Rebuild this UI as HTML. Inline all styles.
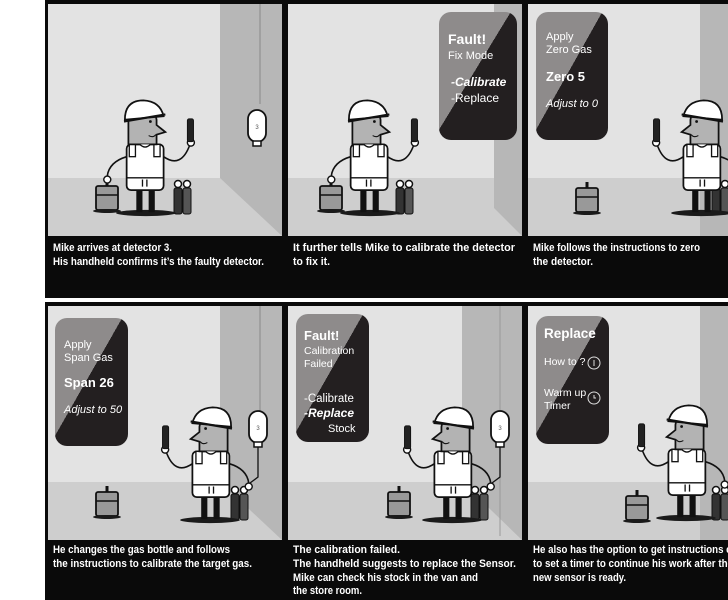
<!DOCTYPE html>
<html><head><meta charset="utf-8"><style>
html,body{margin:0;padding:0;background:#fff;width:728px;height:600px;overflow:hidden}
svg{display:block}
.cap{font-family:"Liberation Sans",sans-serif;font-weight:bold;font-size:11px;fill:#fff}
.pt{font-family:"Liberation Sans",sans-serif;fill:#fff}
</style></head><body>
<svg width="728" height="600" viewBox="0 0 728 600" xmlns="http://www.w3.org/2000/svg">
<defs>
<linearGradient id="pop" x1="0" y1="0" x2="1" y2="1">
<stop offset="0" stop-color="#8e8b8b"/><stop offset="0.46" stop-color="#8e8b8b"/><stop offset="0.46" stop-color="#231f20"/><stop offset="1" stop-color="#231f20"/>
</linearGradient>
<g id="man">
<ellipse cx="0" cy="0" rx="34" ry="3.5" fill="#1a1a1a"/>
<rect x="-11" y="-28" width="7" height="27" fill="#111"/>
<rect x="3" y="-28" width="7" height="27" fill="#111"/>
<rect x="-22" y="-78" width="42" height="52" rx="5" fill="#fff" stroke="#111" stroke-width="2"/>
<line x1="-22" y1="-40" x2="20" y2="-40" stroke="#111" stroke-width="1.5"/>
<rect x="-19" y="-78" width="7" height="14" fill="#fff" stroke="#111" stroke-width="1.5"/>
<rect x="9" y="-78" width="7" height="14" fill="#fff" stroke="#111" stroke-width="1.5"/>
<path d="M-4,-38 v8 M1,-38 v8" stroke="#111" stroke-width="1.5"/>
<path d="M-20,-78 L-20,-106 Q-20,-120 -4,-120 Q10,-120 12,-106 L12,-100 L22,-92 L12,-89 L12,-78 Z" fill="#b3b3b3" stroke="#111" stroke-width="2"/>
<path d="M-7,-78 Q-1,-72 5,-78" fill="#fff" stroke="#111" stroke-width="1.5"/>
<circle cx="5" cy="-104" r="1.6" fill="#111"/>
<path d="M3,-88 Q8,-85 11,-89" fill="none" stroke="#111" stroke-width="1.3"/>
<path d="M-24,-106 Q-24,-128 -3,-128 Q16,-127 20,-110 Z" fill="#fff" stroke="#111" stroke-width="2"/>
<path d="M-25,-104 L22,-112" stroke="#111" stroke-width="2.5"/>
<path d="M20,-64 Q40,-50 50,-78" fill="none" stroke="#111" stroke-width="1.8"/>
<circle cx="51" cy="-80" r="4" fill="#fff" stroke="#111" stroke-width="1.6"/>
<rect x="47" y="-107" width="7" height="26" rx="2" fill="#222" stroke="#111"/>
<path d="M-22,-64 Q-42,-58 -44,-42" fill="none" stroke="#111" stroke-width="1.8"/>
<circle cx="-44" cy="-38" r="4" fill="#fff" stroke="#111" stroke-width="1.6"/>
</g>
<g id="case">
<rect x="0" y="0" width="22" height="24" rx="2" fill="#999" stroke="#111" stroke-width="1.8"/>
<line x1="0" y1="9" x2="22" y2="9" stroke="#111" stroke-width="1.5"/>
<line x1="11" y1="0" x2="11" y2="-6" stroke="#111" stroke-width="3"/>
<ellipse cx="11" cy="25" rx="14" ry="2" fill="#1a1a1a"/>
</g>
<g id="bot">
<rect x="0" y="8" width="8" height="26" rx="2" fill="#333" stroke="#111"/>
<rect x="9" y="8" width="8" height="26" rx="2" fill="#555" stroke="#111"/>
<circle cx="4" cy="4" r="3.5" fill="#fff" stroke="#111" stroke-width="1.5"/>
<circle cx="13" cy="4" r="3.5" fill="#fff" stroke="#111" stroke-width="1.5"/>
</g>
<g id="det">
<rect x="-9" y="0" width="18" height="32" rx="9" fill="#fff" stroke="#111" stroke-width="1.8"/>
<rect x="-4" y="31" width="8" height="5" fill="#fff" stroke="#111" stroke-width="1.5"/>
<text x="0" y="19" font-size="6" text-anchor="middle" font-family="Liberation Sans" fill="#555">3</text>
</g>
</defs>

<rect x="45" y="0" width="683" height="298" fill="#0a0a0a"/>
<rect x="45" y="302" width="683" height="298" fill="#0a0a0a"/>

<!-- Panel 1 -->
<svg x="48" y="4" width="234" height="232">
<rect width="234" height="232" fill="#e3e3e3"/>
<rect y="174" width="234" height="58" fill="#cecece"/>
<polygon points="172,0 234,0 234,232 172,174" fill="#b7b7b7"/>
<line x1="212" y1="0" x2="212" y2="100" stroke="#888" stroke-width="1"/>
<use href="#det" x="209" y="106"/>
<use href="#case" x="48" y="182"/>
<use href="#bot" x="126" y="176"/>
<use href="#man" transform="translate(98,209) scale(0.88)"/>
</svg>
<!-- Panel 2 -->
<svg x="288" y="4" width="234" height="232">
<rect width="234" height="232" fill="#e3e3e3"/>
<rect y="174" width="234" height="58" fill="#cecece"/>
<polygon points="206,0 234,0 234,232 206,204" fill="#b7b7b7"/>
<use href="#case" x="32" y="182"/>
<use href="#bot" x="108" y="176"/>
<use href="#man" transform="translate(82,209) scale(0.88)"/>
<rect x="151" y="8" width="78" height="128" rx="12" fill="url(#pop)"/>
<text class="pt" x="160" y="40" font-size="14" font-weight="bold">Fault!</text>
<text class="pt" x="160" y="55" font-size="11" fill="#ddd">Fix Mode</text>
<text class="pt" x="163" y="82" font-size="12" font-weight="bold" font-style="italic">-Calibrate</text>
<text class="pt" x="163" y="98" font-size="12">-Replace</text>
</svg>
<!-- Panel 3 -->
<svg x="528" y="4" width="200" height="232">
<rect width="200" height="232" fill="#e3e3e3"/>
<rect y="174" width="200" height="58" fill="#cecece"/>
<rect x="172" y="0" width="28" height="232" fill="#b7b7b7"/>
<use href="#case" x="48" y="184"/>
<use href="#bot" x="184" y="176"/>
<use href="#man" transform="translate(173,209) scale(-0.88,0.88)"/>
<rect x="8" y="8" width="72" height="128" rx="12" fill="url(#pop)"/>
<text class="pt" x="18" y="36" font-size="11" fill="#ddd">Apply</text>
<text class="pt" x="18" y="49" font-size="11" fill="#ddd">Zero Gas</text>
<text class="pt" x="18" y="77" font-size="13" font-weight="bold">Zero 5</text>
<text class="pt" x="18" y="103" font-size="11" font-style="italic" fill="#ddd">Adjust to 0</text>
</svg>
<!-- Panel 4 -->
<svg x="48" y="306" width="234" height="234">
<rect width="234" height="234" fill="#e3e3e3"/>
<rect y="176" width="234" height="58" fill="#cecece"/>
<polygon points="172,0 234,0 234,234 172,176" fill="#b7b7b7"/>
<line x1="212" y1="0" x2="212" y2="110" stroke="#888"/>
<use href="#case" x="48" y="186"/>
<use href="#bot" x="183" y="180"/>
<use href="#man" transform="translate(162,214) scale(-0.88,0.88)"/>
<use href="#det" x="210" y="105"/>
<path d="M210,141 v30 l-8,6" fill="none" stroke="#111" stroke-width="1.3"/>
<rect x="7" y="12" width="73" height="128" rx="12" fill="url(#pop)"/>
<text class="pt" x="16" y="42" font-size="11" fill="#ddd">Apply</text>
<text class="pt" x="16" y="55" font-size="11" fill="#ddd">Span Gas</text>
<text class="pt" x="16" y="81" font-size="13" font-weight="bold">Span 26</text>
<text class="pt" x="16" y="107" font-size="11" font-style="italic" fill="#ddd">Adjust to 50</text>
</svg>
<!-- Panel 5 -->
<svg x="288" y="306" width="234" height="234">
<rect width="234" height="234" fill="#e3e3e3"/>
<rect y="176" width="234" height="58" fill="#cecece"/>
<polygon points="174,0 234,0 234,234 174,176" fill="#b7b7b7"/>
<line x1="212" y1="0" x2="212" y2="230" stroke="#999"/>
<use href="#case" x="100" y="186"/>
<use href="#bot" x="183" y="180"/>
<use href="#man" transform="translate(164,214) scale(-0.88,0.88)"/>
<use href="#det" x="212" y="105"/>
<path d="M212,141 v30 l-8,6" fill="none" stroke="#111" stroke-width="1.3"/>
<rect x="8" y="8" width="73" height="128" rx="12" fill="url(#pop)"/>
<text class="pt" x="16" y="34" font-size="13" font-weight="bold">Fault!</text>
<text class="pt" x="16" y="48" font-size="10.5" fill="#ddd">Calibration</text>
<text class="pt" x="16" y="61" font-size="10.5" fill="#ddd">Failed</text>
<text class="pt" x="16" y="96" font-size="11.5">-Calibrate</text>
<text class="pt" x="16" y="111" font-size="12" font-weight="bold" font-style="italic">-Replace</text>
<text class="pt" x="40" y="126" font-size="11">Stock</text>
</svg>
<!-- Panel 6 -->
<svg x="528" y="306" width="200" height="234">
<rect width="200" height="234" fill="#e3e3e3"/>
<rect y="176" width="200" height="58" fill="#cecece"/>
<rect x="172" y="0" width="28" height="234" fill="#b7b7b7"/>
<use href="#case" x="98" y="190"/>
<use href="#bot" x="184" y="180"/>
<use href="#man" transform="translate(158,212) scale(-0.88,0.88)"/>
<rect x="8" y="10" width="73" height="128" rx="12" fill="url(#pop)"/>
<text class="pt" x="16" y="32" font-size="13.5" font-weight="bold">Replace</text>
<text class="pt" x="16" y="59" font-size="10.5" fill="#ddd">How to ?</text>
<circle cx="66" cy="57" r="6" fill="none" stroke="#ddd" stroke-width="1"/>
<line x1="66" y1="54" x2="66" y2="60" stroke="#ddd"/>
<text class="pt" x="16" y="90" font-size="10.5" fill="#eee">Warm up</text>
<text class="pt" x="16" y="103" font-size="10.5" fill="#eee">Timer</text>
<circle cx="66" cy="92" r="6" fill="none" stroke="#ddd" stroke-width="1"/>
<path d="M66,89 v3 h2" fill="none" stroke="#ddd"/>
</svg>

<!-- Captions -->
<text class="cap" x="53" y="251" textLength="119" lengthAdjust="spacingAndGlyphs">Mike arrives at detector 3.</text>
<text class="cap" x="53" y="265" textLength="211" lengthAdjust="spacingAndGlyphs">His handheld confirms it’s the faulty detector.</text>
<text class="cap" x="293" y="251" textLength="222" lengthAdjust="spacingAndGlyphs">It further tells Mike to calibrate the detector</text>
<text class="cap" x="293" y="265" textLength="37" lengthAdjust="spacingAndGlyphs">to fix it.</text>
<text class="cap" x="533" y="251" textLength="167" lengthAdjust="spacingAndGlyphs">Mike follows the instructions to zero</text>
<text class="cap" x="533" y="265" textLength="60" lengthAdjust="spacingAndGlyphs">the detector.</text>
<text class="cap" x="53" y="553" textLength="177" lengthAdjust="spacingAndGlyphs">He changes the gas bottle and follows</text>
<text class="cap" x="53" y="567" textLength="199" lengthAdjust="spacingAndGlyphs">the instructions to calibrate the target gas.</text>
<text class="cap" x="293" y="553" textLength="107" lengthAdjust="spacingAndGlyphs">The calibration failed.</text>
<text class="cap" x="293" y="567" textLength="223" lengthAdjust="spacingAndGlyphs">The handheld suggests to replace the Sensor.</text>
<text class="cap" x="293" y="581" textLength="185" lengthAdjust="spacingAndGlyphs">Mike can check his stock in the van and</text>
<text class="cap" x="293" y="594" textLength="69" lengthAdjust="spacingAndGlyphs">the store room.</text>
<text class="cap" x="533" y="553" textLength="205" lengthAdjust="spacingAndGlyphs">He also has the option to get instructions on</text>
<text class="cap" x="533" y="567" textLength="200" lengthAdjust="spacingAndGlyphs">to set a timer to continue his work after the</text>
<text class="cap" x="533" y="581" textLength="93" lengthAdjust="spacingAndGlyphs">new sensor is ready.</text>
</svg>
</body></html>
